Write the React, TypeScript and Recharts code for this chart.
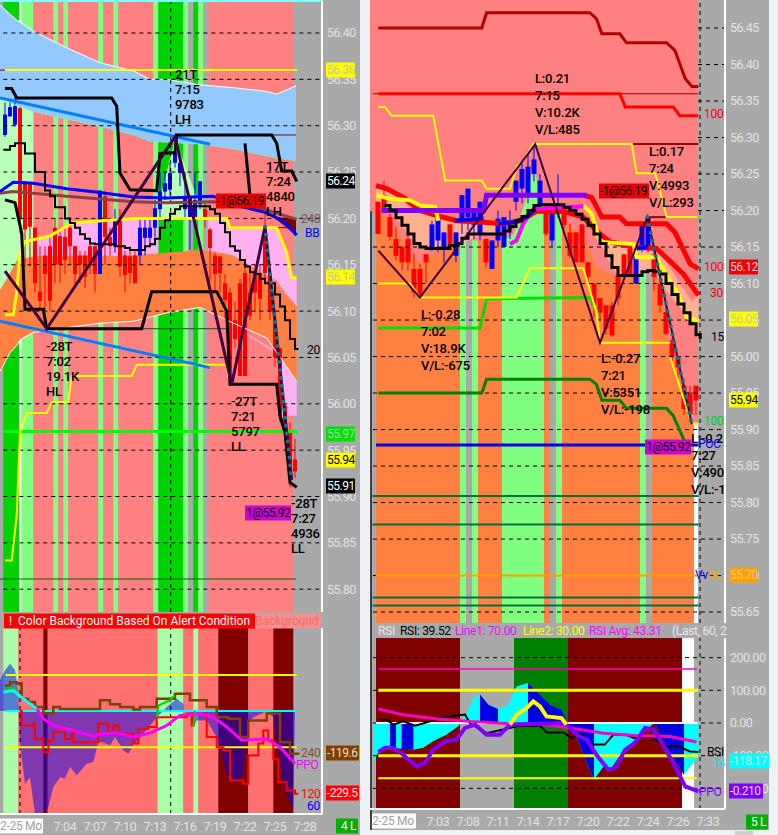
import React from "react";
import {
  ComposedChart,
  Area,
  Bar,
  Line,
  XAxis,
  YAxis,
  ReferenceArea,
} from "recharts";

type Row = number[];

const FONT = "Roboto, 'Noto Sans', sans-serif";

const COLORS: Record<string, string> = {
  pink: "#ff8080",
  cool: "#80ff80",
  green: "#00d400",
  grey: "#a9a9a9",
  white: "#ffffff",
  orange: "#ff8040",
  alert: "#ff7070",
  mint: "#a8ffa8",
  maroon: "#800000",
  forest: "#008000",
};

// ---- left price pane (x = minutes after 7:00)
const leftPriceTicks = [56.4, 56.35, 56.3, 56.25, 56.2, 56.15, 56.1, 56.05, 56.0, 55.95, 55.9, 55.85, 55.8];
const leftBands: [number, number, string][] = [
  [-2.17, -0.57, "green"], [-0.57, -0.33, "white"], [-0.33, 0.83, "cool"], [0.83, 2.83, "pink"],
  [2.83, 3.33, "cool"], [3.33, 3.83, "pink"], [3.83, 4.33, "cool"], [4.33, 7.33, "pink"],
  [7.33, 7.83, "cool"], [7.83, 8.83, "pink"], [8.83, 9.33, "cool"], [9.33, 12.83, "pink"],
  [12.83, 13.33, "cool"], [13.33, 15.83, "green"], [15.83, 16.33, "cool"], [16.33, 16.83, "grey"],
  [16.83, 17.33, "green"], [17.33, 17.83, "cool"], [17.83, 18.33, "grey"], [18.33, 26.83, "pink"],
];
const blueCloud: Row[] = [
  [-2.5, 56.33, 56.43], [-0.83, 56.322, 56.414], [0.83, 56.315, 56.402], [4.17, 56.307, 56.384],
  [7.5, 56.299, 56.368], [10.83, 56.29, 56.359], [12.5, 56.283, 56.35], [14.17, 56.282, 56.35],
  [17.5, 56.28, 56.344], [20.83, 56.275, 56.341], [24.17, 56.267, 56.337], [25.17, 56.265, 56.334],
  [27.1, 56.262, 56.343],
];
const orangeCloud: Row[] = [
  [-2.5, 56.035, 56.123], [-1.5, 56.055, 56.14], [-0.83, 56.063, 56.154], [-0.5, 56.069, 56.156],
  [0.83, 56.077, 56.159], [4.17, 56.082, 56.159], [7.5, 56.087, 56.159], [10.83, 56.089, 56.16],
  [14.17, 56.098, 56.163], [17.5, 56.104, 56.166], [20.83, 56.087, 56.16], [24.17, 56.071, 56.138],
  [27.17, 56.024, 56.105],
];
const mintLeft: Row[] = [[-2.5, 56.12, 56.33], [-0.83, 56.154, 56.322], [0.83, 56.159, 56.315]];
const mintMid: Row[] = [[13, 56.2, 56.2], [15, 56.2, 56.285], [17.83, 56.2, 56.205]];
const pinkLeft: Row[] = [[0.83, 56.159, 56.175], [2.5, 56.16, 56.181], [4.67, 56.16, 56.195], [11, 56.16, 56.2], [13.33, 56.163, 56.2]];
const pinkRight: Row[] = [
  [18.33, 56.165, 56.2], [20.17, 56.162, 56.2], [20.5, 56.16, 56.19], [24.17, 56.138, 56.19],
  [25.17, 56.133, 56.19], [26.17, 56.118, 56.163], [26.67, 56.112, 56.136], [27.17, 56.105, 56.136],
];
const pinkLow: Row[] = [[20.5, 56.086, 56.087], [25.33, 56.053, 56.055], [25.5, 55.987, 56.05], [27.17, 55.987, 56.024]];
const wedge: Row[] = [[24, 56.206, 56.206], [25, 56.2, 56.202], [27.1, 56.182, 56.199]];
const swingHigh: Row[] = [
  [-2, 56.34], [-1.33, 56.34], [-0.83, 56.33], [8.67, 56.33], [9.17, 56.321], [9.5, 56.249], [10.5, 56.231],
  [13.17, 56.23], [13.5, 56.27], [15, 56.271], [15.17, 56.29], [24.67, 56.29], [25.17, 56.281], [25.67, 56.251],
  [26.67, 56.251], [27.17, 56.24],
];
const swingStub: Row[] = [[22, 56.281], [22.5, 56.224], [23.3, 56.224]];
const swingLow: Row[] = [
  [-2, 56.22], [-1, 56.217], [-0.33, 56.184], [0, 56.102], [1.83, 56.102], [2.17, 56.081], [11.67, 56.081],
  [12.67, 56.121], [19.17, 56.121], [20.17, 56.1], [20.5, 56.021], [25.17, 56.021], [25.5, 55.987], [26, 55.969],
  [26.5, 55.915], [27.17, 55.91],
];
const ema20: Row[] = [
  [-2.17, 56.274], [-1.5, 56.278], [-1, 56.281], [-0.5, 56.281], [0, 56.27], [0.5, 56.27], [1, 56.25], [1.5, 56.25],
  [2, 56.23], [2.5, 56.224], [3, 56.212], [3.5, 56.212], [4, 56.2], [4.5, 56.195], [5, 56.19], [5.5, 56.183], [6, 56.178],
  [6.5, 56.173], [7, 56.172], [8.5, 56.172], [9, 56.17], [10, 56.168], [10.5, 56.166], [11.5, 56.166], [12, 56.17],
  [12.5, 56.172], [13, 56.178], [13.5, 56.19], [14, 56.198], [14.5, 56.205], [15, 56.21], [15.5, 56.213], [18, 56.213],
  [18.5, 56.21], [19, 56.205], [19.5, 56.195], [20, 56.185], [20.5, 56.17], [21, 56.165], [21.5, 56.155], [22, 56.148],
  [22.5, 56.142], [23, 56.14], [23.5, 56.135], [24, 56.13], [24.5, 56.13], [25, 56.118], [25.5, 56.105], [26, 56.09],
  [26.5, 56.07], [27, 56.059], [27.33, 56.059],
];
const yellowUpper: Row[] = [
  [-2, 56.096], [-1.17, 56.096], [-0.83, 56.12], [-0.5, 56.163], [0, 56.175], [2.5, 56.181], [4.67, 56.195],
  [10.83, 56.2], [20.17, 56.2], [20.5, 56.19], [25.17, 56.19], [26.17, 56.163], [26.67, 56.136], [27.17, 56.136],
];
const yellowLower: Row[] = [
  [-2, 55.831], [-1.33, 55.831], [-0.83, 55.879], [-0.5, 55.969], [0.17, 55.99], [2.17, 55.99], [2.67, 56.002],
  [4.33, 56.002], [4.67, 56.03], [10.67, 56.03], [11.17, 56.042], [20.17, 56.042], [20.5, 56.021],
];
const bbLine: Row[] = [
  [-2.5, 56.229], [-1.17, 56.239], [0.83, 56.238], [4.17, 56.232], [7.5, 56.228], [10.83, 56.223], [14.17, 56.222],
  [18.83, 56.224], [20.83, 56.215], [24.17, 56.206], [25.83, 56.197], [27.17, 56.182],
];
const line240: Row[] = [
  [-2.5, 56.227], [-1.17, 56.229], [4.17, 56.224], [10.83, 56.218], [14.17, 56.217], [18.83, 56.218], [20.83, 56.217],
  [24.17, 56.209], [27.17, 56.199],
];
const trendUpper: Row[] = [[-2.5, 56.33], [18.5, 56.28]];
const trendLower: Row[] = [[-2.5, 56.089], [18.5, 56.039]];
const zigzagLeft: Row[] = [[-2, 56.143], [2.17, 56.081], [15, 56.288], [20.67, 56.021], [24, 56.191], [26.67, 55.918]];
const dotsLeft: Row[] = [[24, 56.191], [26.67, 55.918]];
const levelsLeft: { y: number; from: number; to: number; kind: string; w: number }[] = [
  { y: 56.36, from: -2.5, to: -2, kind: "#800000", w: 1 },
  { y: 56.36, from: -2, to: 27.2, kind: "#ffff00", w: 2 },
  { y: 56.29, from: 24.67, to: 27.1, kind: "#800000", w: 1 },
  { y: 56.19, from: 23.9, to: 27.1, kind: "#800000", w: 1 },
  { y: 56.081, from: 11.8, to: 20.3, kind: "#006000", w: 1 },
  { y: 55.97, from: -2.17, to: 27.2, kind: "#00ff00", w: 3 },
  { y: 55.811, from: -2.5, to: 27.1, kind: "#006000", w: 1 },
];
// x, open, high, low, close
const leftCandles: Row[] = [
  [-2, 56.29, 56.325, 56.288, 56.312], [-1.5, 56.31, 56.325, 56.31, 56.32], [-1, 56.301, 56.33, 56.299, 56.321],
  [-0.5, 56.319, 56.321, 56.184, 56.199], [0, 56.24, 56.24, 56.148, 56.188], [0.5, 56.238, 56.24, 56.148, 56.191],
  [1, 56.19, 56.19, 56.12, 56.13], [1.5, 56.121, 56.17, 56.1, 56.111], [2, 56.16, 56.17, 56.1, 56.14],
  [2.5, 56.17, 56.18, 56.1, 56.111], [3, 56.19, 56.2, 56.13, 56.15], [3.5, 56.181, 56.19, 56.13, 56.15],
  [4, 56.18, 56.19, 56.14, 56.155], [4.5, 56.19, 56.195, 56.15, 56.17], [5, 56.17, 56.17, 56.127, 56.14],
  [5.5, 56.16, 56.165, 56.13, 56.15], [6, 56.16, 56.165, 56.125, 56.137], [6.5, 56.17, 56.175, 56.14, 56.152],
  [7, 56.17, 56.17, 56.12, 56.14], [7.5, 56.14, 56.23, 56.14, 56.23], [8, 56.224, 56.23, 56.15, 56.18],
  [8.5, 56.18, 56.19, 56.16, 56.17], [9, 56.17, 56.21, 56.163, 56.2], [9.5, 56.199, 56.21, 56.137, 56.148],
  [10, 56.16, 56.165, 56.12, 56.139], [10.5, 56.159, 56.17, 56.13, 56.141], [11, 56.16, 56.165, 56.13, 56.13],
  [11.5, 56.16, 56.2, 56.15, 56.19], [12, 56.179, 56.2, 56.16, 56.19], [12.5, 56.179, 56.2, 56.17, 56.19],
  [13, 56.19, 56.22, 56.18, 56.211], [13.5, 56.21, 56.25, 56.2, 56.229], [14, 56.229, 56.25, 56.22, 56.238],
  [14.5, 56.231, 56.26, 56.225, 56.249], [15, 56.26, 56.285, 56.255, 56.271], [15.5, 56.249, 56.267, 56.235, 56.26],
  [16, 56.21, 56.25, 56.2, 56.224], [16.5, 56.2, 56.225, 56.166, 56.224], [17, 56.2, 56.25, 56.198, 56.22],
  [17.5, 56.215, 56.24, 56.21, 56.24], [18, 56.21, 56.217, 56.19, 56.2], [18.5, 56.188, 56.19, 56.132, 56.168],
  [19, 56.16, 56.163, 56.12, 56.14], [19.5, 56.159, 56.16, 56.12, 56.141], [20, 56.13, 56.14, 56.09, 56.112],
  [20.5, 56.12, 56.125, 56.02, 56.03], [21, 56.09, 56.11, 56.06, 56.07], [21.5, 56.13, 56.135, 56.03, 56.03],
  [22, 56.141, 56.15, 56.03, 56.03], [22.5, 56.12, 56.14, 56.09, 56.095], [23, 56.141, 56.15, 56.1, 56.12],
  [23.5, 56.141, 56.15, 56.09, 56.113], [24, 56.184, 56.214, 56.13, 56.141], [24.5, 56.141, 56.15, 56.09, 56.1],
  [25, 56.09, 56.095, 56.04, 56.05], [25.5, 56.06, 56.06, 55.98, 55.987], [26, 55.998, 56.0, 55.96, 55.98],
  [26.5, 55.97, 55.98, 55.91, 55.925], [27, 55.94, 55.962, 55.92, 55.927],
];

// ---- left indicator pane
const leftTimeTicks = [4, 7, 10, 13, 16, 19, 22, 25, 28];
const alertBands: [number, number, string][] = [
  [-2.17, -0.67, "mint"], [-0.67, 1.83, "alert"], [1.83, 2.27, "maroon"], [2.27, 13.27, "alert"],
  [13.27, 15.83, "mint"], [15.83, 16.83, "alert"], [16.83, 17.33, "mint"], [17.33, 19.33, "alert"],
  [19.33, 22.33, "maroon"], [22.33, 24.83, "alert"], [24.83, 26.83, "maroon"],
];
const ppoHist: Row[] = [
  [-2.5, 85], [-2, 113], [-1.5, 131], [-1, 113], [-0.67, 57], [-0.63, 0], [-0.5, -90], [0, -201], [0.5, -183],
  [1, -284], [1.83, -284], [2.33, -266], [2.83, -210], [3.5, -183], [4, -187], [4.5, -155], [5.17, -178], [6.17, -146],
  [6.83, -141], [7.33, -86], [7.83, -86], [8.5, -95], [9, -72], [9.83, -109], [10.33, -118], [10.83, -95], [11.83, -63],
  [13.17, -17], [13.83, 0], [14.17, 11], [15.17, 34], [15.83, 20], [15.9, 0], [16.5, 0], [16.83, -44], [17.17, -26],
  [18.17, -26], [19.17, -72], [20.17, -174], [21.17, -201], [21.83, -174], [22.33, -35], [22.83, -17], [24.17, 0],
  [24.83, -17], [25.83, -210], [26.83, -275], [27, 0],
];
const brown240: Row[] = [
  [-2, 71], [-1.5, 80], [-0.83, 76], [-0.33, 34], [0.33, 25], [1, 11], [1.83, -7], [2.83, 11], [3.5, 6], [7.17, 6],
  [7.5, 30], [8.5, 19], [9.5, 11], [10.83, 4], [11.5, 11], [13.17, 34], [15, 48], [16.5, 30], [18.17, 11], [19.17, -17],
  [20.33, -21], [21.5, -72], [22.33, -26], [24.17, -7], [25.5, -86], [26.5, -118], [27.33, -121],
];
const red120: Row[] = [
  [-0.5, 0], [-0.33, -40], [0.83, -35], [1, -77], [1.83, -114], [2.33, -81], [2.83, -58], [4, -77], [4.67, -58],
  [4.83, -86], [7.33, -35], [8.33, -58], [8.83, -40], [9.33, -63], [10.83, -90], [11.33, -49], [12.33, -44], [13.17, -17],
  [16.17, -7], [16.67, -40], [16.83, -7], [18.17, -72], [19.17, -100], [19.83, -109], [20.5, -192], [21.83, -201],
  [22.33, -123], [23.33, -90], [23.83, -54], [24.33, -81], [24.83, -132], [25.33, -197], [26.17, -220], [27, -229], [27.33, -229],
];
const ppoCyan: Row[] = [[-2.17, 53], [-1.17, 57], [-0.17, 34], [1.17, 6]];
const ppoLine: Row[] = [
  [1.17, 6], [1.83, -21], [2.83, -40], [4.83, -54], [6.83, -70], [7.5, -63], [9.17, -61], [10.83, -72], [12.5, -61],
  [14.17, -40], [15.5, -12], [17.5, -7], [18.83, -17], [20.17, -44], [21.67, -81], [24.17, -77], [25.5, -100], [27, -146],
];
const greenA: Row[] = [[-2, 57], [-1.5, 66], [-0.83, 57]];
const greenB: Row[] = [[13.17, -17], [13.33, 15], [14.5, 30], [15, 43]];
const greenC: Row[] = [[16.83, -44], [17, 2]];

// ---- right price pane (x = bar number)
const rightPriceTicks = [56.45, 56.4, 56.35, 56.3, 56.25, 56.2, 56.15, 56.1, 56.05, 56.0, 55.95, 55.9, 55.85, 55.8, 55.75, 55.7, 55.65];
const rightBands: [number, number, string][] = [
  [-0.33, 13.67, "orange"], [13.67, 14.67, "cool"], [14.67, 15.67, "grey"], [15.67, 16.67, "cool"],
  [16.67, 20.67, "orange"], [20.67, 27.67, "cool"], [27.67, 28.67, "orange"], [28.67, 29.67, "grey"],
  [29.67, 30.67, "cool"], [30.67, 43.67, "orange"], [43.67, 44.67, "cool"], [44.67, 45.67, "grey"],
  [45.67, 52.67, "orange"], [52.67, 53.33, "white"],
];
const pinkTop: Row[] = [
  [-1.33, 56.2, 56.49], [-0.33, 56.196, 56.49], [2, 56.191, 56.49], [4.2, 56.159, 56.49], [5.9, 56.136, 56.49],
  [7, 56.127, 56.49], [8.1, 56.134, 56.49], [10.3, 56.145, 56.49], [13.67, 56.159, 56.49], [20.9, 56.159, 56.49],
  [22.6, 56.168, 56.49], [24.8, 56.218, 56.49], [25.9, 56.269, 56.49], [27, 56.218, 56.49], [27.8, 56.2, 56.49],
  [30.6, 56.196, 56.49], [32, 56.177, 56.49], [34.2, 56.168, 56.49], [36.4, 56.122, 56.49], [38.7, 56.113, 56.49],
  [41.4, 56.109, 56.49], [43.7, 56.113, 56.49], [45.9, 56.132, 56.49], [47.6, 56.077, 56.49], [48.1, 56.031, 56.49],
  [50.3, 55.971, 56.49], [52.3, 55.907, 56.49], [53.33, 55.907, 56.49],
];
const peachLeft: Row[] = [
  [-0.33, 56.196, 56.234], [0.9, 56.207, 56.23], [2, 56.2, 56.227], [3.4, 56.186, 56.22], [5.3, 56.164, 56.204],
  [6.7, 56.15, 56.2], [10.9, 56.148, 56.19], [13.67, 56.154, 56.186], [17.6, 56.168, 56.184], [20.6, 56.168, 56.182],
  [23.1, 56.186, 56.186],
];
const peachRight: Row[] = [
  [36.2, 56.175, 56.175], [38.1, 56.136, 56.163], [40, 56.111, 56.15], [42.4, 56.111, 56.149], [44.2, 56.113, 56.148],
  [46.4, 56.113, 56.148], [48, 56.09, 56.13], [50.3, 56.068, 56.1], [52.3, 56.045, 56.075], [53.4, 56.024, 56.084],
];
const black15: Row[] = [
  [1, 56.207], [2, 56.2], [3, 56.19], [4, 56.18], [5, 56.168], [6, 56.155], [7, 56.15], [8, 56.148], [11, 56.148], [12, 56.152],
  [13, 56.155], [14, 56.162], [15, 56.168], [20, 56.168], [21, 56.172], [22, 56.178], [23, 56.186], [24, 56.192], [25, 56.2],
  [26, 56.207], [27, 56.208], [30, 56.208], [31, 56.204], [32, 56.2], [33, 56.195], [34, 56.188], [35, 56.18], [36, 56.168],
  [37, 56.155], [38, 56.138], [39, 56.122], [40, 56.111], [43, 56.111], [44, 56.116], [45, 56.118], [46, 56.116], [47, 56.113],
  [48, 56.1], [49, 56.085], [50, 56.072], [51, 56.06], [52, 56.045], [53, 56.03], [53.7, 56.024],
];
const red30: Row[] = [
  [-0.33, 56.234], [1.4, 56.23], [4.2, 56.218], [7, 56.2], [9.8, 56.193], [13.1, 56.186], [17.6, 56.184], [20.6, 56.182],
  [23.7, 56.186], [26.4, 56.199], [30.9, 56.199], [34.2, 56.191], [37, 56.168], [38.7, 56.157], [42.6, 56.15], [46.4, 56.148],
  [50.9, 56.113], [53.4, 56.084],
];
const red100: Row[] = [
  [34.2, 56.221], [35.6, 56.218], [37.3, 56.191], [40.3, 56.191], [41.4, 56.182], [48.1, 56.182], [49.5, 56.17], [52, 56.127],
  [53.4, 56.12],
];
const darkRedBand: Row[] = [
  [0.06, 56.45], [17.3, 56.45], [18.1, 56.471], [35.3, 56.471], [36.4, 56.463], [37.3, 56.442], [40.3, 56.442], [41.4, 56.43],
  [48.1, 56.43], [49.5, 56.419], [51.2, 56.381], [52.3, 56.37], [53.4, 56.37],
];
const midRedBand: Row[] = [[0.06, 56.36], [40.3, 56.36], [41.2, 56.342], [49.2, 56.342], [50.3, 56.33], [53.4, 56.33]];
const brightGreenBand: Row[] = [[0.06, 56.039], [17, 56.039], [18.1, 56.079], [35.3, 56.081], [36.7, 56.058]];
const darkGreenBand: Row[] = [
  [0.06, 55.95], [17.3, 55.95], [18.1, 55.969], [35.3, 55.969], [36.4, 55.962], [37.3, 55.94], [40.3, 55.94], [41.4, 55.929],
  [48.1, 55.929], [49.2, 55.919], [51.2, 55.882],
];
const yellowStep: Row[] = [
  [0.06, 56.342], [1.17, 56.342], [2.28, 56.33], [9.2, 56.33], [11.2, 56.241], [17.3, 56.241], [18.1, 56.23], [22, 56.23],
  [23.1, 56.26], [24.2, 56.269], [25.9, 56.291], [42.3, 56.291], [43.1, 56.251], [46.2, 56.251], [48.1, 56.191], [53.2, 56.191],
];
const yellowBase: Row[] = [
  [0.06, 56.1], [5.33, 56.1], [7, 56.081], [23.1, 56.081], [25.3, 56.121], [34.2, 56.121], [36.4, 56.061], [37, 56.019], [48.7, 56.019],
];
const yellowFast: Row[] = [[-0.33, 56.221], [2, 56.216], [5.3, 56.214], [7, 56.207], [9.5, 56.205], [10.05, 56.186]];
const yellowSlow: Row[] = [
  [34.2, 56.207], [35.6, 56.196], [37, 56.157], [42.6, 56.154], [43.1, 56.136], [46.4, 56.136], [47.6, 56.118], [50.3, 56.081],
  [51.4, 56.054], [53.4, 56.049],
];
const yellowDrop: Row[] = [[48.7, 55.999], [52.3, 55.908], [53.4, 55.908]];
const zigzagRight: Row[] = [[0.06, 56.145], [7, 56.081], [26.2, 56.291], [37, 56.019], [44.9, 56.191], [52.3, 55.907]];
const dotsRight: Row[] = [[44.9, 56.191], [52.3, 55.907]];
const violetBand: Row[] = [[0.6, 56.2], [17.6, 56.2], [18.1, 56.221], [34.8, 56.221]];
const magentaBand: Row[] = [[22, 56.154], [23.1, 56.159], [24.2, 56.182], [25.9, 56.202], [34.2, 56.206]];
const blueA: Row[] = [[12.8, 56.186], [17.6, 56.189]];
const blueB: Row[] = [[20, 56.182], [22.6, 56.184], [24.8, 56.191], [26.2, 56.202]];
const blueC: Row[] = [[43.1, 56.148], [45, 56.15]];
const levelsRight: { y: number; from: number; to: number; kind: string; w: number }[] = [
  { y: 56.36, from: -0.9, to: 53.4, kind: "#a00000", w: 1 },
  { y: 56.291, from: 42.3, to: 53.4, kind: "#a00000", w: 2 },
  { y: 56.191, from: 44.9, to: 48.1, kind: "#a00000", w: 2 },
  { y: 55.879, from: -0.33, to: 53.4, kind: "#0000e0", w: 3 },
  { y: 55.809, from: -0.9, to: 53.4, kind: "#007040", w: 2 },
  { y: 55.77, from: -0.9, to: 53.4, kind: "#007040", w: 2 },
  { y: 55.7, from: -0.33, to: 53.4, kind: "#ffa000", w: 2 },
  { y: 55.67, from: -0.9, to: 53.4, kind: "#007040", w: 2 },
  { y: 55.659, from: -0.9, to: 53.4, kind: "#007040", w: 2 },
];
const rightCandles: Row[] = [
  [0, 56.212, 56.212, 56.168, 56.168], [1, 56.221, 56.241, 56.196, 56.198], [2, 56.191, 56.196, 56.159, 56.164],
  [3, 56.161, 56.177, 56.132, 56.138], [4, 56.15, 56.152, 56.118, 56.129], [5, 56.161, 56.17, 56.118, 56.129],
  [6, 56.12, 56.141, 56.081, 56.088], [7, 56.12, 56.127, 56.081, 56.081], [8, 56.14, 56.14, 56.1, 56.129],
  [9, 56.15, 56.186, 56.145, 56.181], [10, 56.159, 56.191, 56.143, 56.19], [11, 56.15, 56.17, 56.129, 56.17],
  [12, 56.181, 56.182, 56.148, 56.15], [13, 56.138, 56.17, 56.129, 56.17], [14, 56.186, 56.221, 56.168, 56.221],
  [15, 56.191, 56.23, 56.173, 56.23], [16, 56.18, 56.2, 56.161, 56.2], [17, 56.168, 56.212, 56.159, 56.212],
  [18, 56.161, 56.161, 56.122, 56.129], [19, 56.12, 56.159, 56.12, 56.159], [20, 56.159, 56.2, 56.15, 56.189],
  [21, 56.15, 56.191, 56.15, 56.191], [22, 56.175, 56.2, 56.161, 56.186], [23, 56.212, 56.241, 56.2, 56.241],
  [24, 56.23, 56.269, 56.21, 56.257], [25, 56.221, 56.282, 56.21, 56.26], [26, 56.25, 56.291, 56.24, 56.27],
  [27, 56.209, 56.25, 56.2, 56.241], [28, 56.201, 56.205, 56.165, 56.168], [29, 56.159, 56.205, 56.15, 56.2],
  [30, 56.195, 56.25, 56.19, 56.201], [31, 56.2, 56.202, 56.175, 56.18], [32, 56.17, 56.182, 56.135, 56.138],
  [33, 56.17, 56.17, 56.129, 56.129], [34, 56.181, 56.182, 56.129, 56.129], [35, 56.129, 56.129, 56.1, 56.109],
  [36, 56.1, 56.1, 56.054, 56.07], [37, 56.08, 56.08, 56.05, 56.06], [38, 56.07, 56.07, 56.03, 56.038],
  [39, 56.07, 56.075, 56.027, 56.029], [40, 56.111, 56.111, 56.07, 56.08], [41, 56.14, 56.14, 56.109, 56.109],
  [42, 56.148, 56.148, 56.109, 56.109], [43, 56.1, 56.14, 56.1, 56.14], [44, 56.15, 56.182, 56.143, 56.181],
  [45, 56.15, 56.191, 56.143, 56.191], [46, 56.14, 56.15, 56.09, 56.109], [47, 56.1, 56.11, 56.06, 56.07],
  [48, 56.061, 56.07, 56.03, 56.031], [49, 56.022, 56.025, 55.99, 55.999], [50, 55.999, 56.0, 55.97, 55.985],
  [51, 55.96, 55.97, 55.92, 55.928], [52, 55.951, 55.96, 55.91, 55.921], [53, 55.96, 55.96, 55.92, 55.94],
];

// ---- right indicator pane
const rsiTicks = [200, 100, 0, -100, -200];
const rightTimeTicks = [10, 15, 20, 25, 30, 35, 40, 45, 50, 55];
const rightTimeLabels = ["7:03", "7:08", "7:11", "7:14", "7:17", "7:20", "7:22", "7:24", "7:26", "7:33"];
const rsiBands: [number, number, string][] = [
  [-0.33, 13.67, "maroon"], [22.67, 31.67, "forest"], [31.67, 50.67, "maroon"], [50.67, 52.67, "white"],
];
const cciCyan: Row[] = [
  [-0.78, -122], [0, -92], [2, -76], [5.9, -82], [7.56, -76], [9.2, -56], [11.4, -36], [13.4, -10], [13.67, 0], [14.8, 31],
  [15.9, 76], [17, 87], [18.4, 56], [20, 43], [21.7, 56], [23.1, 112], [25, 122], [27, 87], [28.7, 56], [30.6, 41], [31.67, 0],
  [33.1, -41], [34.8, -122], [36, -173], [37.6, -133], [38.7, -143], [40.9, -82], [43.1, -51], [44.8, -20], [46, 0], [47, -31],
  [48.7, -92], [51, -158], [53.4, -102],
];
const cciBlue: (number | null)[][] = [
  [2, 0], [2, -76], [3, -78], [3, null], [3.94, -80], [5.9, -82], [5.9, null], [17, 87], [18.4, 56], [20, 43], [20, null],
  [25, 122], [27, 87], [28.7, 56], [30.6, 41], [31.67, 0], [33.1, -41], [34.8, -122], [36, -173], [36, null],
  [46, 0], [47, -31], [48.7, -92], [51, -158],
];
const rsiAvg: Row[] = [
  [0.06, 43], [4.2, 25], [9.8, 12], [15.3, 5], [22, -2], [26.4, -2], [32, -15], [37.6, -31], [43.1, -39], [48.7, -41], [53.1, -58],
];
const rsiBlack: Row[] = [
  [0.06, 10], [1.44, 10], [2.56, -5], [4.2, 5], [6.2, -8], [8.7, 5], [10.9, 18], [14.5, 26], [15.3, 0], [18.1, -31], [20.9, -20],
  [23.1, -10], [27, -8], [28.1, -29], [30.9, -29], [32.3, -46], [33.7, -31], [35.6, -66], [37.8, -66], [39.2, -36], [41.4, -36],
  [42.6, -46], [45.3, -41], [48.1, -71], [50, -71], [52, -87], [53.4, -89],
];
const ppoPurple: Row[] = [
  [0.06, -89], [1.17, -76], [2.56, -76], [4.2, -97], [6.44, -133], [7.83, -122], [9.2, -82], [11.2, -56], [13.1, -51], [14.5, -15],
  [16.2, -5], [18.1, -36], [20.3, -36], [22, -5], [31.2, 0], [33.1, -36], [34.8, -51], [36.4, -97], [38.4, -143], [39.5, -138],
  [41.2, -82], [42.8, -61], [44.5, -15], [45.9, -20], [47.6, -71], [49.2, -122], [51.2, -194], [53.4, -209],
];
const rsiYellow: Row[] = [[22, -5], [23.1, 26], [24.8, 46], [25.9, 66], [27, 51], [28.1, 20], [30.6, 15], [31.4, -5]];

const toXY = (rows: (number | null)[][]) => rows.map(([x, y]) => ({ x, y }));
const toRange = (rows: Row[]) => rows.map(([x, lo, hi]) => ({ x, range: [lo, hi] }));
const toCandles = (rows: Row[]) => rows.map(([x, o, h, l, c]) => ({ x, o, h, l, c, span: [l, h] }));
const minuteLabel = (m: number) => `7:${String(m).padStart(2, "0")}`;

function Candle(props: any) {
  const { x, y, width, height, payload, bodyW } = props;
  if (!payload || !height) return null;
  const unit = height / (payload.h - payload.l);
  const top = Math.max(payload.o, payload.c);
  const bottom = Math.min(payload.o, payload.c);
  const color = payload.c >= payload.o ? "#0000ff" : "#ff0000";
  const mid = x + width / 2;
  return (
    <g>
      <rect x={mid - 0.5} y={y} width={1} height={height} fill={color} />
      <rect x={mid - bodyW / 2} y={y + (payload.h - top) * unit} width={bodyW} height={Math.max(1, (top - bottom) * unit)} fill={color} />
    </g>
  );
}

const path = (rows: (number | null)[][], stroke: string, w = 2, type: any = "linear", dash?: string) => (
  <Line
    data={toXY(rows)}
    dataKey="y"
    stroke={stroke}
    strokeWidth={w}
    type={type}
    strokeDasharray={dash}
    dot={false}
    activeDot={false}
    isAnimationActive={false}
  />
);
const dotted = (rows: Row[], stroke: string) => (
  <Line data={toXY(rows)} dataKey="y" stroke={stroke} strokeWidth={4} strokeLinecap="round" strokeDasharray="0 8" dot={false} activeDot={false} isAnimationActive={false} />
);
const cloud = (rows: Row[], fill: string, stroke = "none", w = 1) => (
  <Area data={toRange(rows)} dataKey="range" fill={fill} fillOpacity={1} stroke={stroke} strokeWidth={w} type="linear" dot={false} activeDot={false} isAnimationActive={false} />
);
const bands = (rows: [number, number, string][]) =>
  rows.map(([a, b, kind]) => <ReferenceArea key={`${a}-${b}`} x1={a} x2={b} fill={COLORS[kind]} fillOpacity={1} stroke="none" />);
const dashes = (ys: number[], from: number, to: number) =>
  ys.map((y) => <React.Fragment key={`d${y}`}>{path([[from, y], [to, y]], "#000", 1, "linear", "4 4")}</React.Fragment>);

const tickStyle = { fill: "#e4e4e4", fontSize: 12.5, fontFamily: FONT, letterSpacing: -0.5, dx: -3 };
const timeTick = { fill: "#e4e4e4", fontSize: 12.5, fontFamily: FONT, letterSpacing: -0.3 };

function Txt({ x, y, c = "#000", size = 12, bg, w, weight, spacing = -0.3, children }: any) {
  return (
    <div
      style={{
        position: "absolute",
        left: x,
        top: y,
        transform: "translateY(-50%)",
        color: c,
        background: bg,
        width: w,
        fontSize: size,
        fontFamily: FONT,
        fontWeight: weight,
        letterSpacing: spacing,
        whiteSpace: "nowrap",
        overflow: w ? "hidden" : undefined,
        lineHeight: "15px",
      }}
    >
      {children}
    </div>
  );
}

function Note({ x, y, gap, lines }: { x: number; y: number; gap: number; lines: string[] }) {
  return (
    <>
      {lines.map((line, i) => (
        <Txt key={i} x={x} y={y + i * gap} size={13} weight={500} spacing={-0.2}>
          {line}
        </Txt>
      ))}
    </>
  );
}

function Tag({ x, y, w, bg, c, children }: any) {
  return (
    <Txt x={x} y={y} w={w} bg={bg} c={c} spacing={-0.5}>
      <span style={{ paddingLeft: 1 }}>{children}</span>
    </Txt>
  );
}

export default function App() {
  return (
    <div style={{ position: "fixed", left: 0, top: 0, width: 778, height: 835, background: "#eef2f6", overflow: "hidden" }}>
      <div style={{ position: "absolute", left: 0, top: 0, width: 360, height: 835, background: "#a9a9a9" }} />
      <div style={{ position: "absolute", left: 370, top: 0, width: 399, height: 830, background: "#a9a9a9" }} />
      <div style={{ position: "absolute", left: 370, top: 0, width: 2, height: 830, background: "#404040" }} />
      <div style={{ position: "absolute", left: 735, top: 831, width: 18, height: 4, background: "#cfcfcf" }} />

      <div style={{ position: "absolute", left: 0, top: 0 }}>
        <ComposedChart width={360} height={612} data={toCandles(leftCandles)} margin={{ top: 0, right: 0, bottom: 0, left: 0 }}>
          <XAxis hide type="number" dataKey="x" domain={[-2.5, 29.7]} allowDataOverflow />
          <YAxis
            orientation="right"
            type="number"
            width={38}
            domain={[55.7754, 56.4356]}
            allowDataOverflow
            ticks={leftPriceTicks}
            interval={0}
            tickLine={false}
            axisLine={{ stroke: "#fff", strokeWidth: 2 }}
            tick={tickStyle}
            tickFormatter={(v: number) => v.toFixed(2)}
          />
          {bands(leftBands)}
          {cloud(blueCloud, "#93c9ff")}
          {cloud(mintLeft, "#b8ffb8")}
          {cloud(mintMid, "#b8ffb8")}
          {cloud(pinkLeft, "#ffb0f0")}
          {cloud(pinkRight, "#ffb0f0")}
          {cloud(pinkLow, "#ffb0f0")}
          {cloud(orangeCloud, "#ff8040")}
          {cloud(wedge, "#800000")}
          {path(blueCloud.map(([x, , hi]) => [x, hi]), "#ffffff", 1)}
          {path(orangeCloud.map(([x, lo]) => [x, lo]), "#ffffff", 1)}
          {path(blueCloud.map(([x, lo]) => [x, lo]), "#80ff80", 1, "linear", "2 2")}
          {dashes(leftPriceTicks, -2.17, 29.7)}
          {path([[14.57, 55.7754], [14.57, 56.4356]], "#000", 1, "linear", "4 4")}
          {levelsLeft.map((l) => (
            <React.Fragment key={`${l.y}-${l.from}`}>{path([[l.from, l.y], [l.to, l.y]], l.kind, l.w)}</React.Fragment>
          ))}
          <Bar dataKey="span" barSize={4} shape={(p: any) => <Candle {...p} bodyW={4} />} isAnimationActive={false} />
          {path(yellowLower, "#ffff00", 2)}
          {path(yellowUpper, "#ffff00", 3)}
          {path(line240, "#904040", 3)}
          {path(bbLine, "#0000ff", 3)}
          {path(trendUpper, "#0080ff", 3)}
          {path(trendLower, "#0080ff", 3)}
          {path(ema20, "#000", 2, "stepAfter")}
          {path(swingHigh, "#000", 3)}
          {path(swingStub, "#000", 3)}
          {path(swingLow, "#000", 3)}
          {path(zigzagLeft, "#400040", 3)}
          {dotted(dotsLeft, "#008080")}
        </ComposedChart>
      </div>

      <div style={{ position: "absolute", left: 0, top: 628 }}>
        <ComposedChart width={360} height={207} data={[]} margin={{ top: 0, right: 0, bottom: 0, left: 0 }}>
          <XAxis
            type="number"
            dataKey="x"
            domain={[-2.5, 29.7]}
            allowDataOverflow
            height={21}
            ticks={leftTimeTicks}
            interval={0}
            tickLine={false}
            axisLine={{ stroke: "#fff", strokeWidth: 2 }}
            tick={timeTick}
            tickFormatter={minuteLabel}
          />
          <YAxis
            orientation="right"
            type="number"
            width={38}
            domain={[-285, 230]}
            allowDataOverflow
            ticks={[]}
            tickLine={false}
            axisLine={{ stroke: "#fff", strokeWidth: 2 }}
          />
          {bands(alertBands)}
          <Area data={toXY(ppoHist)} dataKey="y" fill="#0000f0" fillOpacity={0.5} stroke="none" type="linear" baseValue={0} activeDot={false} isAnimationActive={false} />
          {path([[-0.5, -285], [-0.5, 230]], "#000", 1, "linear", "4 4")}
          {path([[14.57, -285], [14.57, 230]], "#000", 1, "linear", "4 4")}
          {path([[-1.93, 100], [27.17, 100]], "#ffff00", 2)}
          {path([[-1.93, -100], [27.17, -100]], "#ffff00", 2)}
          {path([[-1.93, 0], [27.17, 0]], "#00ffff", 2)}
          {path(brown240, "#804000", 2.5, "stepAfter")}
          {path(red120, "#ff0000", 2, "stepAfter")}
          {path(greenA, "#00d000", 2)}
          {path(greenB, "#00d000", 2)}
          {path(greenC, "#00d000", 2)}
          {path(ppoCyan, "#00ffff", 3)}
          {path(ppoLine, "#ff00ff", 3)}
        </ComposedChart>
      </div>

      <div style={{ position: "absolute", left: 370, top: 0 }}>
        <ComposedChart width={399} height={623} data={toCandles(rightCandles)} margin={{ top: 0, right: 0, bottom: 0, left: 0 }}>
          <XAxis hide type="number" dataKey="x" domain={[-1.33, 57.83]} allowDataOverflow />
          <YAxis
            orientation="right"
            type="number"
            width={44}
            domain={[55.635, 56.4884]}
            allowDataOverflow
            ticks={rightPriceTicks}
            interval={0}
            tickLine={false}
            axisLine={{ stroke: "#fff", strokeWidth: 2 }}
            tick={tickStyle}
            tickFormatter={(v: number) => v.toFixed(2)}
          />
          {bands(rightBands)}
          {dashes([56.15, 56.1, 56.05, 56.0, 55.95, 55.9, 55.85, 55.8, 55.75, 55.7, 55.65], -0.83, 57.83)}
          {cloud(pinkTop, "#ff8080")}
          {cloud(peachLeft, "#ffb090")}
          {cloud(peachRight, "#ffb090")}
          {dashes([56.45, 56.4, 56.35, 56.3, 56.25, 56.2], 53.33, 57.83)}
          {path([[53.67, 55.635], [53.67, 56.4884]], "#000", 1, "linear", "4 4")}
          {levelsRight.map((l) => (
            <React.Fragment key={`${l.y}-${l.from}`}>{path([[l.from, l.y], [l.to, l.y]], l.kind, l.w)}</React.Fragment>
          ))}
          {path(darkRedBand, "#b00000", 3)}
          {path(midRedBand, "#ff0000", 3)}
          {path(brightGreenBand, "#00e000", 3)}
          {path(darkGreenBand, "#008000", 3)}
          {path(yellowStep, "#ffff00", 2)}
          {path(yellowBase, "#ffff00", 2)}
          {path(yellowDrop, "#ffff00", 2)}
          {path(red30, "#ff0000", 5)}
          {path(red100, "#ff0000", 5)}
          <Bar dataKey="span" barSize={5} shape={(p: any) => <Candle {...p} bodyW={5} />} isAnimationActive={false} />
          {path(yellowFast, "#ffff00", 4)}
          {path(yellowSlow, "#ffff00", 4)}
          {path(violetBand, "#8000ff", 5)}
          {path(magentaBand, "#ff00ff", 4)}
          {path(blueA, "#0000ff", 4)}
          {path(blueB, "#0000ff", 4)}
          {path(blueC, "#0000ff", 4)}
          {path(black15, "#000", 3, "stepAfter")}
          {path(zigzagRight, "#400040", 2)}
          {dotted(dotsRight, "#008080")}
        </ComposedChart>
      </div>

      <div style={{ position: "absolute", left: 370, top: 638 }}>
        <ComposedChart width={399} height={197} data={[]} margin={{ top: 0, right: 0, bottom: 0, left: 0 }}>
          <XAxis
            type="number"
            dataKey="x"
            domain={[-1.33, 57.83]}
            allowDataOverflow
            height={26}
            ticks={rightTimeTicks}
            interval={0}
            tickLine={false}
            axisLine={{ stroke: "#fff", strokeWidth: 2 }}
            tick={timeTick}
            tickFormatter={(v: number) => rightTimeLabels[rightTimeTicks.indexOf(v)]}
          />
          <YAxis
            orientation="right"
            type="number"
            width={44}
            domain={[-263, 260]}
            allowDataOverflow
            ticks={rsiTicks}
            interval={0}
            tickLine={false}
            axisLine={{ stroke: "#fff", strokeWidth: 2 }}
            tick={tickStyle}
            tickFormatter={(v: number) => v.toFixed(2)}
          />
          {bands(rsiBands)}
          {dashes(rsiTicks, -0.83, 57.83)}
          {path([[53.67, -263], [53.67, 260]], "#000", 1, "linear", "4 4")}
          <Area data={toXY(cciCyan)} dataKey="y" fill="#00ffff" fillOpacity={1} stroke="none" type="linear" baseValue={0} activeDot={false} isAnimationActive={false} />
          <Area data={toXY(cciBlue)} dataKey="y" fill="#0000e0" fillOpacity={1} stroke="none" type="linear" baseValue={0} connectNulls={false} activeDot={false} isAnimationActive={false} />
          {path([[-0.33, 0], [53.33, 0]], "#ffffff", 2)}
          {path([[0.06, 165], [53.1, 165]], "#ff00c0", 1.5)}
          {path([[0.06, 100], [53.33, 100]], "#ffff00", 3)}
          {path([[0.06, -100], [53.33, -100]], "#ffff00", 3)}
          {path([[0.06, -169], [53.1, -169]], "#ffff00", 2)}
          {path(rsiBlack, "#000", 2)}
          {path(rsiAvg, "#ff00c0", 3)}
          {path(ppoPurple, "#8000ff", 4)}
          {path(rsiYellow, "#ffff00", 4)}
        </ComposedChart>
      </div>

      <div style={{ position: "absolute", left: 0, top: 0, width: 322, height: 2, background: "#80ffff" }} />

      <Note x={175} y={74} gap={15} lines={["21T", "7:15", "9783", "LH"]} />
      <Note x={266} y={166} gap={15} lines={["17T", "7:24", "4840", "LH"]} />
      <Note x={46} y={346} gap={15} lines={["-28T", "7:02", "19.1K", "HL"]} />
      <Note x={231} y={401} gap={15} lines={["-27T", "7:21", "5797", "LL"]} />
      <Note x={291} y={503} gap={15} lines={["-28T", "7:27", "4936", "LL"]} />
      <Tag x={216} y={201} w={50} bg="#e80000">-1@56.19</Tag>
      <Tag x={245} y={513} w={46} bg="#d000d0">1@55.92</Tag>
      <Tag x={326} y={70} w={29} bg="#ffff00" c="#c8c890">56.36</Tag>
      <Tag x={326} y={181} w={29} bg="#000" c="#fff">56.24</Tag>
      <Tag x={326} y={277} w={29} bg="#ffff00" c="#c8c890">56.14</Tag>
      <Tag x={326} y={434} w={29} bg="#00e000" c="#a0d8a0">55.97</Tag>
      <Tag x={326} y={460} w={29} bg="#ffff00">55.94</Tag>
      <Tag x={326} y={486} w={29} bg="#000" c="#fff">55.91</Tag>
      <Txt x={301} y={219} c="#805050">240</Txt>
      <Txt x={305} y={233} c="#0000ff">BB</Txt>
      <Txt x={307} y={350}>20</Txt>

      <Txt x={4} y={621} bg="#ff0000" c="#fff" w={251} spacing={0}>
        <span style={{ paddingLeft: 5 }}>! &nbsp;Color Background Based On Alert Condition</span>
      </Txt>
      <Txt x={255} y={621} bg="#f09090" c="#ff6868" w={67} spacing={0}>Background</Txt>
      <Txt x={301} y={753} c="#805030">240</Txt>
      <Txt x={296} y={765} c="#ff00ff">PPO</Txt>
      <Txt x={301} y={794} c="#ff0000">120</Txt>
      <Txt x={307} y={806} c="#0000ff">60</Txt>
      <Tag x={326} y={753} w={33} bg="#804000" c="#e8e0d0">-119.6</Tag>
      <Tag x={326} y={793} w={33} bg="#ff0000" c="#ffe0e0">-229.5</Tag>
      <Txt x={0} y={826} bg="#fff" c="#a0a0a0" w={43}>2-25 Mo</Txt>
      <Txt x={336} y={826} bg="#00b000" c="#fff" w={22}>
        <span style={{ paddingLeft: 5 }}>4 L</span>
      </Txt>

      <Note x={535} y={78} gap={17} lines={["L:0.21", "7:15", "V:10.2K", "V/L:485"]} />
      <Note x={649} y={151} gap={17} lines={["L:0.17", "7:24", "V:4993", "V/L:293"]} />
      <Note x={421} y={314} gap={17} lines={["L:-0.28", "7:02", "V:18.9K", "V/L:-675"]} />
      <Note x={601} y={358} gap={17} lines={["L:-0.27", "7:21", "V:5351", "V/L:-198"]} />
      <Note x={691} y={438} gap={17} lines={["L:-0.2", "7:27", "V:490", "V/L:-1"]} />
      <Tag x={599} y={191} w={50} bg="#e80000">-1@56.19</Tag>
      <Tag x={645} y={447} w={46} bg="#d000d0">1@55.92</Tag>
      <Txt x={704} y={114} c="#ff0000">100</Txt>
      <Txt x={704} y={267} c="#ff0000">100</Txt>
      <Txt x={710} y={293} c="#ff0000">30</Txt>
      <Txt x={711} y={337}>15</Txt>
      <Txt x={704} y={421} c="#00d000">100</Txt>
      <Txt x={698} y={444} c="#0000ff">POC</Txt>
      <Txt x={695} y={575} c="#0000ff">Vv</Txt>
      <Txt x={708} y={575} c="#ffa000">DL</Txt>
      <Tag x={729} y={267} w={29} bg="#f00000" c="#ffd0d0">56.12</Tag>
      <Tag x={729} y={319} w={29} bg="#ffff00" c="#c8c890">56.05</Tag>
      <Tag x={729} y={400} w={29} bg="#ffff00">55.94</Tag>
      <Tag x={729} y={575} w={29} bg="#ffa000" c="#e8c890">55.70</Tag>

      <Txt x={378} y={631} c="#e8e8e8">RSI</Txt>
      <Txt x={400} y={631}>RSI: 39.52</Txt>
      <Txt x={455} y={631} c="#ff00ff">Line1: 70.00</Txt>
      <Txt x={523} y={631} c="#ffff00">Line2: 30.00</Txt>
      <Txt x={589} y={631} c="#ff00ff">RSI Avg: 43.31</Txt>
      <Txt x={672} y={631} c="#e8e8e8">(Last, 60, 2</Txt>
      <Txt x={707} y={752}>RSI</Txt>
      <Txt x={712} y={763} c="#00e8e8">14</Txt>
      <Txt x={699} y={792} c="#8000ff">PPO</Txt>
      <Tag x={729} y={761} w={40} bg="#00ffff" c="#c0f0f0">-118.17</Tag>
      <Tag x={729} y={791} w={34} bg="#8000ff" c="#e8d8ff">-0.210</Tag>
      <Txt x={372} y={821} bg="#fff" c="#a0a0a0" w={44}>2-25 Mo</Txt>
      <Txt x={746} y={822} bg="#00b000" c="#fff" w={22}>
        <span style={{ paddingLeft: 5 }}>5 L</span>
      </Txt>
    </div>
  );
}
